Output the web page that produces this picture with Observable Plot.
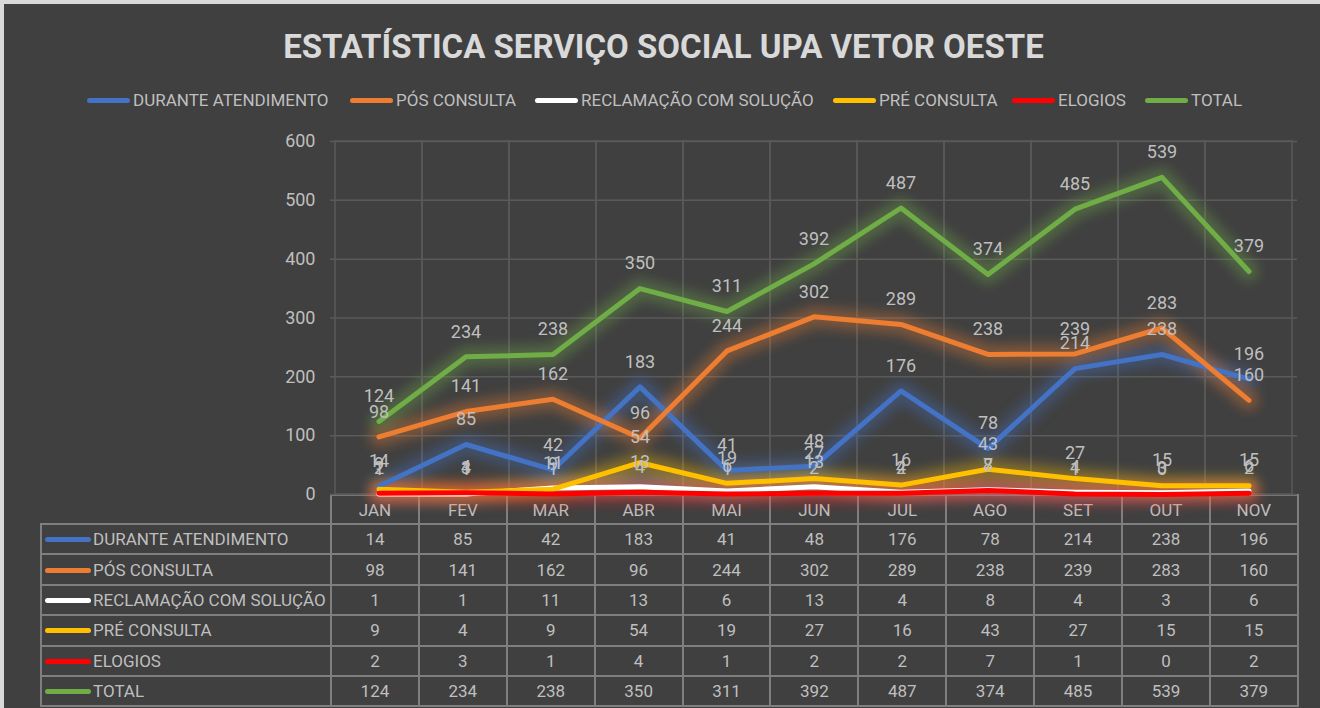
<!DOCTYPE html>
<html>
<head>
<meta charset="utf-8">
<script src="https://cdn.jsdelivr.net/npm/d3@7"></script>
<script src="https://cdn.jsdelivr.net/npm/@observablehq/plot@0.6"></script>
<style>
  html, body { margin: 0; padding: 0; background: #404040; }
  #wrap { position: absolute; left: 0; top: 0; width: 1320px; height: 708px; background: #404040; overflow: hidden;
          font-family: "Roboto", "Liberation Sans", sans-serif; color: #bfbfbf; }
  .edgeT { position: absolute; left: 0; top: 0; width: 1320px; height: 4px; background: #d9d9d9; }
  .edgeL { position: absolute; left: 0; top: 0; width: 4px; height: 708px; background: #d9d9d9; }
  #title { position: absolute; left: 0; top: 25px; width: 1327px; text-align: center; font-weight: bold;
           font-size: 33px; line-height: 44px; color: #d9d9d9; white-space: nowrap; }
  .leg { position: absolute; top: 89px; height: 22px; line-height: 22px; font-size: 17px; white-space: nowrap; color: #bfbfbf; }
  .key { display: inline-block; width: 43px; height: 5px; border-radius: 3px; vertical-align: middle; margin-right: 3px; position: relative; top: -1px; }
  #chart { position: absolute; left: 0; top: 120px; }
  #chart svg { overflow: visible; }
  #tbl { position: absolute; left: 40px; top: 494px; border-collapse: collapse; table-layout: fixed; width: 1258px; font-size: 17px; color: #bfbfbf; }
  #tbl td { border: 2px solid #7f7f7f; text-align: center; padding: 0; white-space: nowrap; overflow: hidden; }
  #tbl tr.hdr td { height: 27px; }
  #tbl tr.row td { height: 28.4px; }
  #tbl td.name { text-align: left; padding-left: 3px; }
  #tbl td.blank { border-top: none; border-left: none; }
  .tkey { display: inline-block; width: 46px; height: 5px; border-radius: 3px; vertical-align: middle; margin-right: 2px; position: relative; top: -1px; }
</style>
</head>
<body>
<div id="wrap">
  <div class="edgeT"></div><div class="edgeL"></div>
  <div id="title">ESTATÍSTICA SERVIÇO SOCIAL UPA VETOR OESTE</div>
  <div id="legend"></div>
  <table id="tbl"></table>
  <div id="chart"></div>
</div>
<script>
const months = ["JAN", "FEV", "MAR", "ABR", "MAI", "JUN", "JUL", "AGO", "SET", "OUT", "NOV"];
const seriesNames = ["DURANTE ATENDIMENTO", "PÓS CONSULTA", "RECLAMAÇÃO COM SOLUÇÃO", "PRÉ CONSULTA", "ELOGIOS", "TOTAL"];
const seriesColors = ["#4472c4", "#ed7d31", "#ffffff", "#ffc000", "#ff0000", "#70ad47"];
const durante    = [14, 85, 42, 183, 41, 48, 176, 78, 214, 238, 196];
const posConsulta = [98, 141, 162, 96, 244, 302, 289, 238, 239, 283, 160];
const reclamacao = [1, 1, 11, 13, 6, 13, 4, 8, 4, 3, 6];
const preConsulta = [9, 4, 9, 54, 19, 27, 16, 43, 27, 15, 15];
const elogios    = [2, 3, 1, 4, 1, 2, 2, 7, 1, 0, 2];
const total      = [124, 234, 238, 350, 311, 392, 487, 374, 485, 539, 379];
const yTicks = [0, 100, 200, 300, 400, 500, 600];

const seriesValues = [durante, posConsulta, reclamacao, preConsulta, elogios, total];
const rows = [];
seriesNames.forEach((s, k) => months.forEach((m, i) => rows.push({series: s, month: m, value: seriesValues[k][i]})));

// Legend (positions of each entry)
const legendLeft = [87, 350, 535, 833, 1012, 1145];
const legend = document.getElementById("legend");
seriesNames.forEach((s, k) => {
  const d = document.createElement("div");
  d.className = "leg";
  d.style.left = legendLeft[k] + "px";
  d.innerHTML = `<span class="key" style="background:${seriesColors[k]}"></span>${s}`;
  legend.appendChild(d);
});

// Data table
const tbl = document.getElementById("tbl");
let html = `<colgroup><col style="width:290px">${months.map(() => '<col style="width:87.9px">').join("")}</colgroup>`;
html += `<tr class="hdr"><td class="blank"></td>${months.map(m => `<td>${m}</td>`).join("")}</tr>`;
seriesNames.forEach((s, k) => {
  html += `<tr class="row"><td class="name"><span class="tkey" style="background:${seriesColors[k]}"></span>${s}</td>${seriesValues[k].map(v => `<td>${v}</td>`).join("")}</tr>`;
});
tbl.innerHTML = html;

const chart = Plot.plot({
  width: 1320,
  height: 374,
  marginLeft: 330,
  marginRight: 23,
  marginTop: 21,
  marginBottom: 0,
  style: {background: "transparent", color: "#bfbfbf", fontSize: "18px",
          fontFamily: '"Roboto", "Liberation Sans", sans-serif', overflow: "visible"},
  x: {type: "band", domain: months, padding: 0, axis: null},
  y: {domain: [0, 600], ticks: yTicks, tickSize: 0, tickPadding: 15, label: null},
  color: {domain: seriesNames, range: seriesColors},
  marks: [
    Plot.ruleY(yTicks, {stroke: "#5a5a5a", strokeWidth: 1.5}),
    Plot.cell(months, {x: d => d, fill: "none", stroke: "#5a5a5a", strokeWidth: 1.5, inset: 0}),
    Plot.line(rows, {x: "month", y: "value", z: "series", stroke: "series", strokeWidth: 20, strokeOpacity: 0.35,
                     strokeLinejoin: "round", strokeLinecap: "round"}),
    Plot.line(rows, {x: "month", y: "value", z: "series", stroke: "series", strokeWidth: 5,
                     strokeLinejoin: "round", strokeLinecap: "round"}),
    Plot.text(rows, {x: "month", y: "value", text: d => String(d.value), dy: -25, fill: "#bfbfbf", fontSize: 18})
  ]
});
const lineGroups = chart.querySelectorAll('g[aria-label="line"]');
if (lineGroups.length) lineGroups[0].style.filter = "blur(6px)";
document.getElementById("chart").appendChild(chart);
</script>
</body>
</html>
